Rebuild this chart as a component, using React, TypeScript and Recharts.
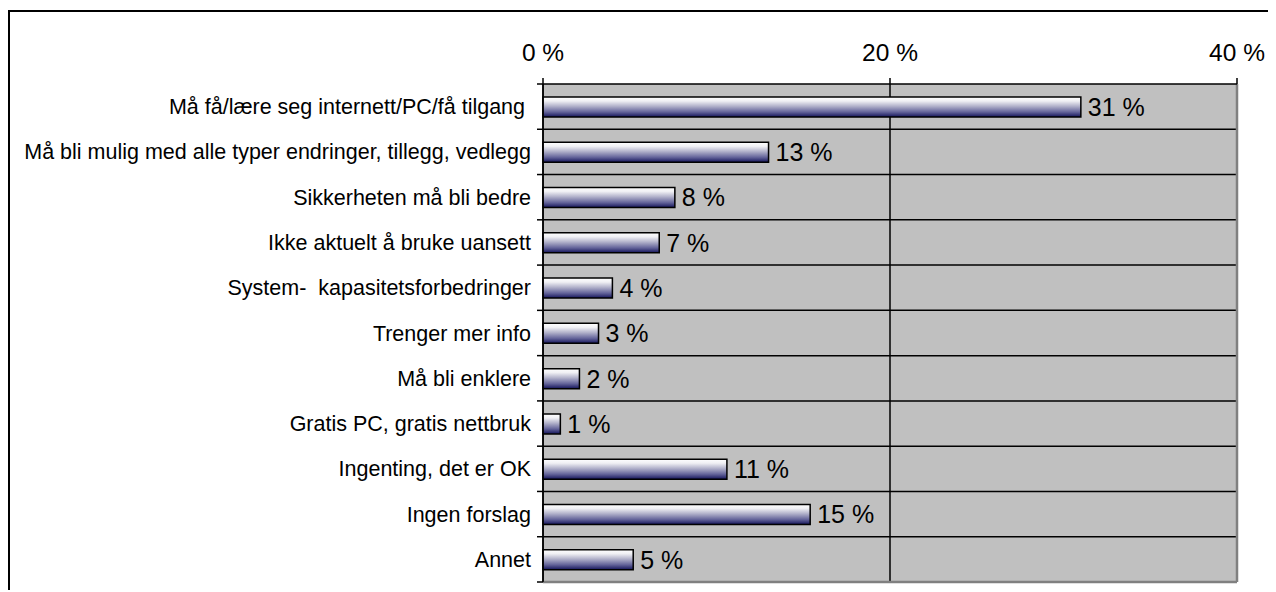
import React from 'react';
import {
  BarChart,
  Bar,
  XAxis,
  YAxis,
  CartesianGrid,
  ReferenceLine,
  LabelList,
} from 'recharts';

// Answer categories (top to bottom) and share of respondents in percent
const categories = [
  'Må få/lære seg internett/PC/få tilgang ',
  'Må bli mulig med alle typer endringer, tillegg, vedlegg',
  'Sikkerheten må bli bedre',
  'Ikke aktuelt å bruke uansett',
  'System-  kapasitetsforbedringer',
  'Trenger mer info',
  'Må bli enklere',
  'Gratis PC, gratis nettbruk',
  'Ingenting, det er OK',
  'Ingen forslag',
  'Annet',
];
const shares = [31.0, 13.0, 7.6, 6.7, 4.0, 3.2, 2.1, 1.0, 10.6, 15.4, 5.2];
const xTicks = [0, 20, 40];

const data = categories.map((name, i) => ({ name, share: shares[i] }));

const FONT = 'Arial, "Liberation Sans", sans-serif';
const WIDTH = 1266;
const HEIGHT = 580;
const MARGIN = { top: 32, right: 39, bottom: 10, left: 0 };
const X_AXIS_HEIGHT = 40;
const Y_AXIS_WIDTH = 533;
const BAND = (HEIGHT - MARGIN.top - X_AXIS_HEIGHT - MARGIN.bottom) / categories.length;

const CategoryTick = (props: any) => {
  const { y, payload, index } = props;
  const top = y - BAND / 2;
  return (
    <g>
      <line x1={Y_AXIS_WIDTH - 6} x2={Y_AXIS_WIDTH} y1={top} y2={top} stroke="#000" strokeWidth={1.5} />
      {index === categories.length - 1 && (
        <line
          x1={Y_AXIS_WIDTH - 6}
          x2={Y_AXIS_WIDTH}
          y1={top + BAND}
          y2={top + BAND}
          stroke="#000"
          strokeWidth={1.5}
        />
      )}
      <text
        x={Y_AXIS_WIDTH - 12}
        y={y}
        dy="0.35em"
        textAnchor="end"
        fontSize={21.5}
        fontFamily={FONT}
        fill="#000"
        style={{ whiteSpace: 'pre' }}
      >
        {payload.value}
      </text>
    </g>
  );
};

export default function App() {
  return (
    <div
      style={{
        position: 'relative',
        top: 2,
        width: WIDTH,
        height: HEIGHT,
        borderLeft: '2px solid #000',
        borderTop: '2px solid #000',
        background: '#fff',
      }}
    >
      <svg width={0} height={0} style={{ position: 'absolute' }}>
        <defs>
          <linearGradient id="barFill" x1="0" y1="0" x2="0" y2="1">
            <stop offset="0%" stopColor="#ffffff" />
            <stop offset="20%" stopColor="#f0f0f4" />
            <stop offset="45%" stopColor="#b4b4cc" />
            <stop offset="75%" stopColor="#64649a" />
            <stop offset="100%" stopColor="#14145a" />
          </linearGradient>
        </defs>
      </svg>
      <BarChart width={WIDTH} height={HEIGHT} data={data} layout="vertical" margin={MARGIN}>
        <CartesianGrid horizontal={false} stroke="#000" strokeWidth={1.5} fill="#c0c0c0" fillOpacity={1} />
        <XAxis
          type="number"
          orientation="top"
          domain={[0, 40]}
          ticks={xTicks}
          height={X_AXIS_HEIGHT}
          tickFormatter={(v: number) => `${v} %`}
          tick={{ fontSize: 24.5, fill: '#000', fontFamily: FONT }}
          tickSize={6}
          tickMargin={17}
          axisLine={{ stroke: '#000', strokeWidth: 1.5 }}
          tickLine={{ stroke: '#000', strokeWidth: 1.5 }}
        />
        <YAxis
          type="category"
          dataKey="name"
          width={Y_AXIS_WIDTH}
          interval={0}
          tick={<CategoryTick />}
          tickLine={false}
          axisLine={{ stroke: '#000', strokeWidth: 1.5 }}
        />
        {categories.slice(1).map((c) => (
          <ReferenceLine key={c} y={c} position="start" stroke="#000" strokeWidth={1.5} />
        ))}
        <ReferenceLine x={40} stroke="#808080" strokeWidth={2.5} />
        <ReferenceLine y={categories[categories.length - 1]} position="end" stroke="#808080" strokeWidth={2.5} />
        <Bar
          dataKey="share"
          barSize={20}
          fill="url(#barFill)"
          stroke="#000"
          strokeWidth={1.5}
          isAnimationActive={false}
        >
          <LabelList
            dataKey="share"
            position="right"
            offset={7}
            formatter={(v: any) => `${Math.round(Number(v))} %`}
            style={{ fontSize: 25, fill: '#000', fontFamily: FONT }}
          />
        </Bar>
      </BarChart>
    </div>
  );
}
